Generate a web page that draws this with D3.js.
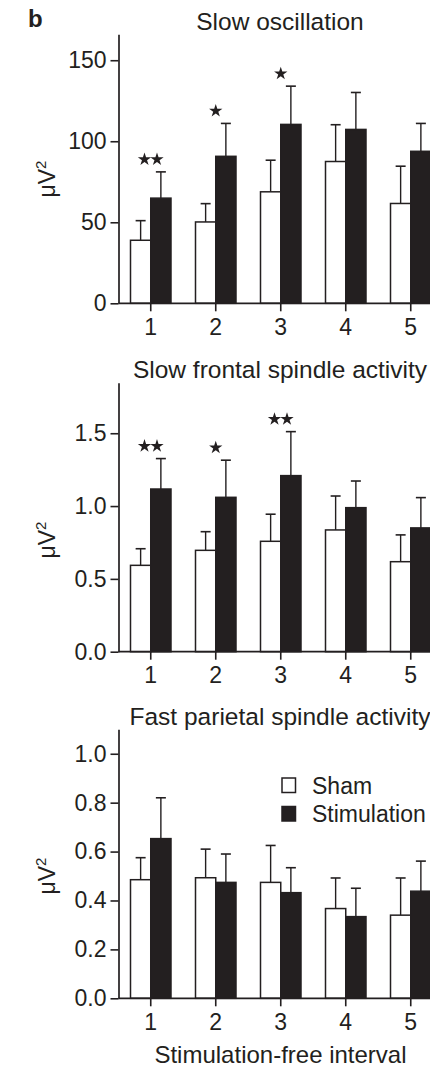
<!DOCTYPE html>
<html>
<head>
<meta charset="utf-8">
<script src="https://d3js.org/d3.v7.min.js"></script>
<style>
    body { margin: 0; background: #fff; }
    text { font-family: "Liberation Sans", Arial, Helvetica, sans-serif; fill: #231f20; }
</style>
</head>
<body>
<svg id="svg" width="430" height="1069"></svg>
<script>
    const intervals = ["1", "2", "3", "4", "5"];
    const conditions = ["Sham", "Stimulation"];

    // slow oscillation power, mean and s.e.m.
    const soSham = [38.9, 50.2, 68.8, 87.5, 61.6];
    const soShamSem = [12.1, 11.3, 19.5, 22.7, 23.0];
    const soStim = [64.9, 90.7, 110.4, 107.3, 93.8];
    const soStimSem = [16.2, 20.3, 23.6, 22.8, 17.2];
    const soSig = ["**", "*", "*", "", ""];
    const soTicks = [0, 50, 100, 150];

    // slow frontal spindle activity
    const sfSham = [0.593, 0.696, 0.758, 0.836, 0.618];
    const sfShamSem = [0.114, 0.128, 0.186, 0.233, 0.184];
    const sfStim = [1.117, 1.060, 1.209, 0.989, 0.850];
    const sfStimSem = [0.209, 0.255, 0.302, 0.183, 0.208];
    const sfSig = ["**", "*", "**", "", ""];
    const sfTicks = [0, 0.5, 1.0, 1.5];

    // fast parietal spindle activity
    const fpSham = [0.485, 0.493, 0.474, 0.367, 0.340];
    const fpShamSem = [0.090, 0.117, 0.151, 0.125, 0.152];
    const fpStim = [0.653, 0.474, 0.432, 0.334, 0.438];
    const fpStimSem = [0.167, 0.116, 0.102, 0.116, 0.123];
    const fpSig = ["", "", "", "", ""];
    const fpTicks = [0, 0.2, 0.4, 0.6, 0.8, 1.0];

    const ink = "#231f20";
    const svg = d3.select("#svg");
    const axisX = 118.5, plotH = 269;

    const x = d3.scaleBand().domain(intervals).range([130.5, 431]).paddingInner(0.377).paddingOuter(0);
    const xSub = d3.scaleBand().domain(conditions).range([0, x.bandwidth()]);
    const fills = { "Sham": "#fff", "Stimulation": ink };

    const panels = [
        { title: "Slow oscillation", sham: soSham, shamSem: soShamSem, stim: soStim, stimSem: soStimSem,
          sig: soSig, ticks: soTicks, fmt: d3.format("d"), ymax: 166, base: 303.3, titleY: 30, labelY: 179 },
        { title: "Slow frontal spindle activity", sham: sfSham, shamSem: sfShamSem, stim: sfStim, stimSem: sfStimSem,
          sig: sfSig, ticks: sfTicks, fmt: d3.format(".1f"), ymax: 1.847, base: 651.7, titleY: 377.5, labelY: 540 },
        { title: "Fast parietal spindle activity", sham: fpSham, shamSem: fpShamSem, stim: fpStim, stimSem: fpStimSem,
          sig: fpSig, ticks: fpTicks, fmt: d3.format(".1f"), ymax: 1.10, base: 998.3, titleY: 725, labelY: 876 }
    ];

    function drawPanel(p) {
        const y = d3.scaleLinear().domain([0, p.ymax]).range([p.base, p.base - plotH]);
        const g = svg.append("g");

        g.append("text").attr("x", 280).attr("y", p.titleY).attr("text-anchor", "middle")
            .style("font-size", "24.5px").text(p.title);

        const rows = intervals.map((k, i) => ({
            k: k, sig: p.sig[i],
            vals: [{ c: "Sham", m: p.sham[i], e: p.shamSem[i] }, { c: "Stimulation", m: p.stim[i], e: p.stimSem[i] }]
        }));

        const grp = g.selectAll("g.grp").data(rows).join("g").attr("class", "grp")
            .attr("transform", d => "translate(" + x(d.k) + ",0)");

        const bw = xSub.bandwidth();
        // error bars (upper only)
        grp.selectAll("line.err").data(d => d.vals).join("line").attr("class", "err")
            .attr("x1", d => xSub(d.c) + bw / 2).attr("x2", d => xSub(d.c) + bw / 2)
            .attr("y1", d => y(d.m)).attr("y2", d => y(d.m + d.e))
            .attr("stroke", ink).attr("stroke-width", 1.4);
        grp.selectAll("line.cap").data(d => d.vals).join("line").attr("class", "cap")
            .attr("x1", d => xSub(d.c) + bw / 2 - 5).attr("x2", d => xSub(d.c) + bw / 2 + 5)
            .attr("y1", d => y(d.m + d.e)).attr("y2", d => y(d.m + d.e))
            .attr("stroke", ink).attr("stroke-width", 1.6);
        grp.selectAll("rect").data(d => d.vals).join("rect")
            .attr("x", d => xSub(d.c)).attr("width", bw)
            .attr("y", d => y(d.m)).attr("height", d => y(0) - y(d.m))
            .attr("fill", d => fills[d.c]).attr("stroke", ink).attr("stroke-width", 1.5);

        // significance stars
        const star = d3.symbol(d3.symbolStar, 55);
        grp.each(function (d) {
            const n = d.sig.length;
            if (!n) return;
            const top = d3.min(d.vals, v => y(v.m + v.e));
            for (let j = 0; j < n; j++) {
                d3.select(this).append("path").attr("d", star())
                    .attr("transform", "translate(" + (x.bandwidth() / 2 + (j - (n - 1) / 2) * 12.5) + "," + (top - 12.5) + ")")
                    .attr("fill", ink);
            }
        });

        // y axis
        const ya = g.append("g").attr("transform", "translate(" + axisX + ",0)")
            .call(d3.axisLeft(y).tickValues(p.ticks).tickFormat(p.fmt).tickSize(8).tickPadding(4).tickSizeOuter(0));
        ya.select(".domain").attr("stroke", ink).attr("stroke-width", 1.7);
        ya.selectAll(".tick line").attr("stroke", ink).attr("stroke-width", 1.6);
        ya.selectAll(".tick text").attr("fill", ink).style("font-size", "23px")
            .style("font-family", "'Liberation Sans', Arial, Helvetica, sans-serif");

        // x axis
        g.append("line").attr("x1", axisX).attr("x2", 430).attr("y1", p.base).attr("y2", p.base)
            .attr("stroke", ink).attr("stroke-width", 1.7);
        const xa = g.append("g").attr("transform", "translate(0," + p.base + ")")
            .call(d3.axisBottom(x).tickSize(8).tickPadding(7).tickSizeOuter(0));
        xa.select(".domain").remove();
        xa.selectAll(".tick line").attr("stroke", ink).attr("stroke-width", 1.6);
        xa.selectAll(".tick text").attr("fill", ink).style("font-size", "23px")
            .style("font-family", "'Liberation Sans', Arial, Helvetica, sans-serif");

        // y label
        const lab = g.append("text").attr("transform", "translate(55," + p.labelY + ") rotate(-90)")
            .attr("text-anchor", "middle").style("font-size", "23px").text("μV");
        lab.append("tspan").attr("dy", -9).style("font-size", "15px").text("2");

        return y;
    }

    panels.forEach(drawPanel);

    // panel letter
    svg.append("text").attr("x", 28).attr("y", 26.5).style("font-size", "24px").style("font-weight", "bold").text("b");

    // legend
    const leg = svg.append("g").attr("transform", "translate(282,778)");
    const li = leg.selectAll("g").data(conditions).join("g").attr("transform", (d, i) => "translate(0," + i * 28.5 + ")");
    li.append("rect").attr("width", 13.5).attr("height", 14.5).attr("fill", d => fills[d]).attr("stroke", ink).attr("stroke-width", 1.5);
    li.append("text").attr("x", 30).attr("y", 15.5).style("font-size", "23px").text(d => d);

    // x label
    svg.append("text").attr("x", 280.5).attr("y", 1063).attr("text-anchor", "middle").style("font-size", "24px")
        .text("Stimulation-free interval");
</script>
</body>
</html>
